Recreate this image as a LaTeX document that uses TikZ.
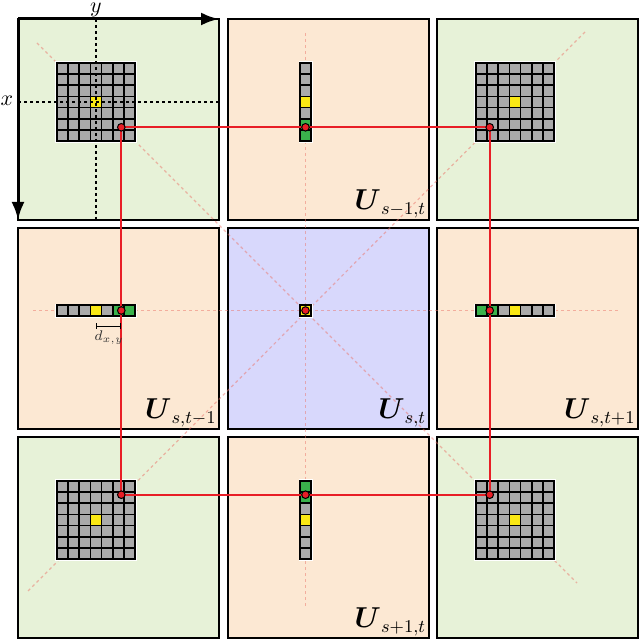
\documentclass[tikz,border=0pt]{standalone}
\usepackage{amsmath}
\usetikzlibrary{arrows.meta}
\definecolor{greenbg}{RGB}{231,242,216}
\definecolor{orangebg}{RGB}{252,232,211}
\definecolor{bluebg}{RGB}{216,216,252}
\definecolor{cellgray}{RGB}{170,170,170}
\definecolor{cellyellow}{RGB}{250,232,20}
\definecolor{cellgreen}{RGB}{58,178,76}
\definecolor{guidepink}{RGB}{235,115,105}
\definecolor{redc}{RGB}{232,30,38}
\tikzset{
 panel/.style={draw=black, line width=1pt, minimum size=100.5pt, inner sep=0pt, outer sep=0pt},
 cellbox/.style={draw=black, line width=0.75pt, fill=cellgray},
 ycell/.style={cellbox, fill=cellyellow},
 gcell/.style={cellbox, fill=cellgreen},
 guide/.style={draw=guidepink, draw opacity=0.5, line width=0.6pt, dash pattern=on 1.5pt off 1.5pt},
 redline/.style={draw=redc, line width=1pt},
 reddot/.style={circle, fill=redc, draw=black, line width=0.5pt, minimum size=3.8pt, inner sep=0pt},
 ulab/.style={anchor=south east, inner sep=1pt, font=\fontsize{13.5}{15}\selectfont},
 axlab/.style={font=\fontsize{11}{13}\selectfont, inner sep=0pt},
 axarrow/.style={line width=1.5pt, -{Latex[length=9pt,width=6.5pt]}},
 axdash/.style={line width=0.6pt, dash pattern=on 1.5pt off 1.5pt},
 dbar/.style={line width=0.5pt, {Bar[width=3pt]}-{Bar[width=3pt]}},
}
\newcommand\fullgrid[2]{%
 \begin{scope}[shift={(#1,#2)}]
  \fill[white] (-40.6,-40.6) rectangle (40.6,40.6);
  \foreach \i in {-3,...,3}{\foreach \j in {-3,...,3}{%
    \draw[cellbox] ({\i*11.2-5.6},{\j*11.2-5.6}) rectangle ++(11.2,11.2);}}
  \draw[ycell] (-5.6,-5.6) rectangle (5.6,5.6);
 \end{scope}}
\newcommand\rowgrid[4]{%
 \begin{scope}[shift={(#1,#2)}]
  \fill[white] (-40.6,-7) rectangle (40.6,7);
  \foreach \i in {-3,...,3}{%
    \draw[cellbox] ({\i*11.2-5.6},-5.6) rectangle ++(11.2,11.2);}
  \draw[ycell] (-5.6,-5.6) rectangle (5.6,5.6);
  \foreach \i in {#3,#4}{%
    \draw[gcell] ({\i*11.2-5.6},-5.6) rectangle ++(11.2,11.2);}
 \end{scope}}
\newcommand\colgrid[4]{%
 \begin{scope}[shift={(#1,#2)}]
  \fill[white] (-7,-40.6) rectangle (7,40.6);
  \foreach \j in {-3,...,3}{%
    \draw[cellbox] (-5.6,{\j*11.2-5.6}) rectangle ++(11.2,11.2);}
  \draw[ycell] (-5.6,-5.6) rectangle (5.6,5.6);
  \foreach \j in {#3,#4}{%
    \draw[gcell] (-5.6,{\j*11.2-5.6}) rectangle ++(11.2,11.2);}
 \end{scope}}
\begin{document}
\begin{tikzpicture}[x=0.5pt,y=-0.5pt]
\useasboundingbox (0,0) rectangle (640,640);
% panels
\node[panel, fill=greenbg]  (p00) at (118.5,119.5) {};
\node[panel, fill=orangebg] (p01) at (328,119.5) {};
\node[panel, fill=greenbg]  (p02) at (537.5,119.5) {};
\node[panel, fill=orangebg] (p10) at (118.5,328.5) {};
\node[panel, fill=bluebg]   (p11) at (328,328.5) {};
\node[panel, fill=orangebg] (p12) at (537.5,328.5) {};
\node[panel, fill=greenbg]  (p20) at (118.5,537.5) {};
\node[panel, fill=orangebg] (p21) at (328,537.5) {};
\node[panel, fill=greenbg]  (p22) at (537.5,537.5) {};
% reference points
\coordinate (r00) at (96,102);
\coordinate (c) at (305.5,310.5);
% guide lines
\coordinate (gW) at (33,310.5);
\coordinate (gE) at (618,310.5);
\coordinate (gN) at (305.5,33);
\coordinate (gS) at (305.5,607);
\coordinate (gNW) at (37,43);
\coordinate (gSE) at (577,583);
\coordinate (gNE) at (585,32);
\coordinate (gSW) at (27,592);
\draw[guide] (gW) -- (gE);
\draw[guide] (gN) -- (gS);
\draw[guide] (gNW) -- (gSE);
\draw[guide] (gNE) -- (gSW);
% grids
\fullgrid{96}{102}
\colgrid{305.5}{102}{2}{3}
\fullgrid{515}{102}
\rowgrid{96}{310.5}{2}{3}
\begin{scope}[shift={(305.5,310.5)}]
 \fill[white] (-7,-7) rectangle (7,7);
 \draw[ycell] (-5.6,-5.6) rectangle (5.6,5.6);
\end{scope}
\rowgrid{515}{310.5}{-3}{-2}
\fullgrid{96}{520}
\colgrid{305.5}{520}{-3}{-2}
\fullgrid{515}{520}
% axes dashed lines in first panel
\draw[axdash] (p00.west |- r00) -- (p00.east |- r00);
\draw[axdash] (r00 |- p00.north) -- (r00 |- p00.south);
% red path
\coordinate (d00) at (121.3,127.3);
\coordinate (d01) at (305.5,127.3);
\coordinate (d02) at (489.7,127.3);
\coordinate (d10) at (121.3,310.5);
\coordinate (d12) at (489.7,310.5);
\coordinate (d20) at (121.3,494.7);
\coordinate (d21) at (305.5,494.7);
\coordinate (d22) at (489.7,494.7);
\draw[redline] (d00) -- (d02) -- (d22) -- (d20) -- cycle;
\foreach \n in {d00,d01,d02,d10,d12,d20,d21,d22}{\node[reddot] at (\n) {};}
\node[reddot] (d11) at (c) {};
% labels
\node[ulab] (l01) at (p01.south east) {$\boldsymbol{U}_{s-1,t}$};
\node[ulab] (l10) at (p10.south east) {$\boldsymbol{U}_{s,t-1}$};
\node[ulab] (l11) at (p11.south east) {$\boldsymbol{U}_{s,t}$};
\node[ulab] (l12) at (p12.south east) {$\boldsymbol{U}_{s,t+1}$};
\node[ulab] (l21) at (p21.south east) {$\boldsymbol{U}_{s+1,t}$};
% axis arrows
\draw[axarrow] (p00.north west) -- (p00.north east);
\draw[axarrow] (p00.north west) -- (p00.south west);
\node[axlab, anchor=north] (ylab) at (96,2.5) {$y$};
\node[axlab] (xlab) at (7,101) {$x$};
% d_{x,y}
\coordinate (b1) at (96,326);
\coordinate (b2) at (121.3,326);
\draw[dbar] (b1) -- (b2);
\node[font=\fontsize{7}{8}\selectfont, inner sep=0pt, text=black!80] (dlab) at (109,338) {$d_{x,y}$};
\end{tikzpicture}
\end{document}
